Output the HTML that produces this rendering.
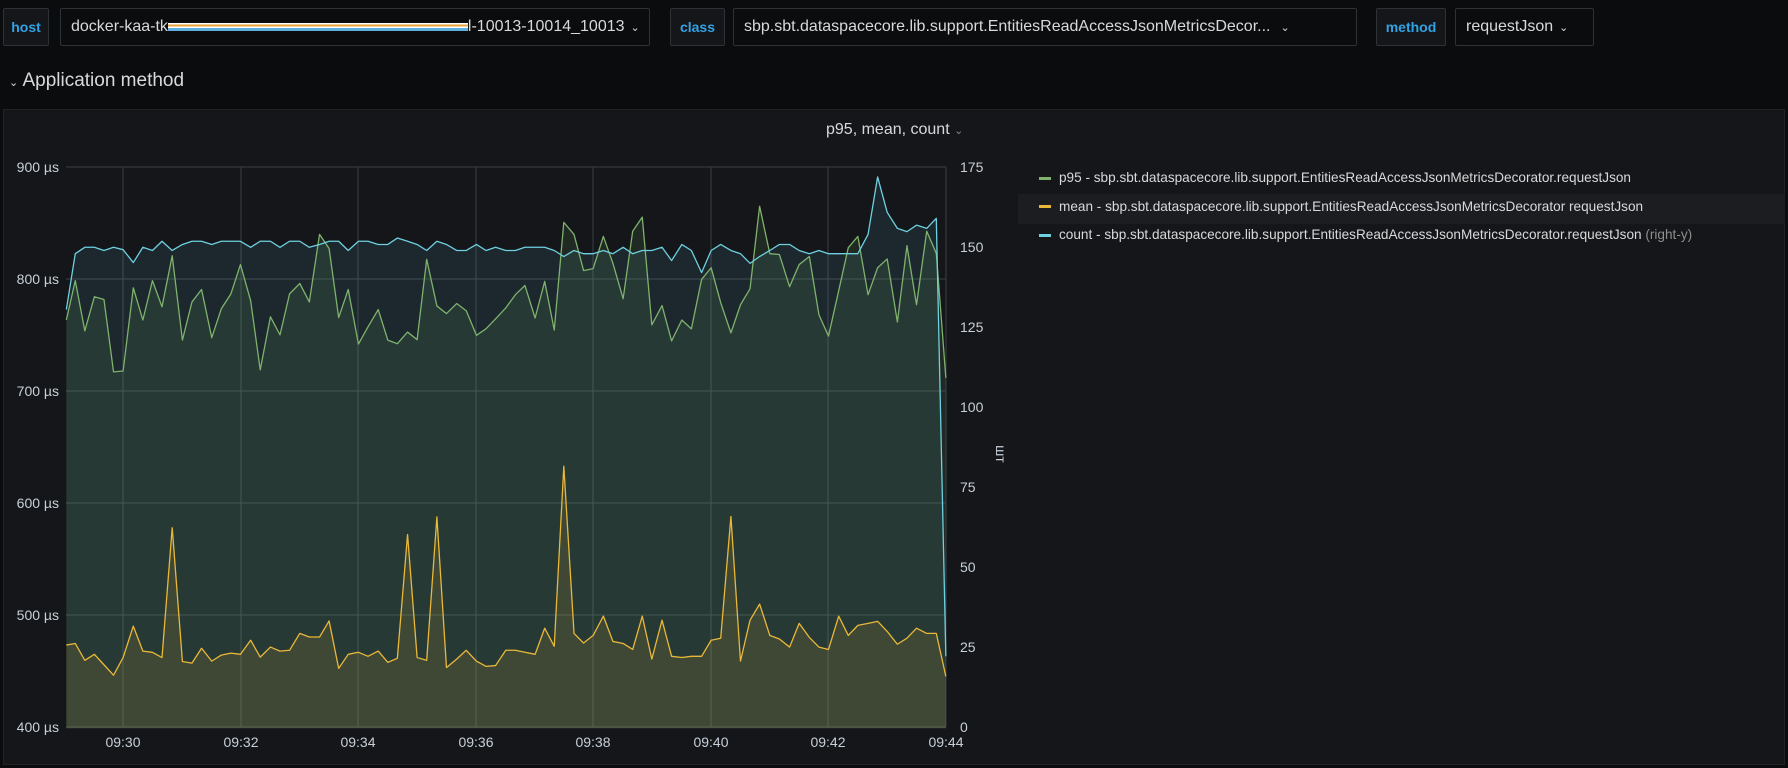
<!DOCTYPE html>
<html><head><meta charset="utf-8"><style>
body{margin:0;width:1788px;height:768px;background:#0b0c0e;font-family:"Liberation Sans",sans-serif;overflow:hidden;position:relative;color:#d8d9da}
.b{position:absolute;box-sizing:border-box;border:1px solid #2c3235;border-radius:2px;height:38px;top:8px;display:flex;align-items:center;font-size:16px}
.l{background:#141619;color:#33a2e5;justify-content:center;font-size:14px;font-weight:bold}
.i{background:#0b0c0e;padding-left:10px;color:#d8d9da}
</style></head><body>
<div class="b l" style="left:3px;width:46px">host</div>
<div class="b i" style="left:60px;width:590px">docker-kaa-tk<span style="display:inline-block;width:300px;height:8px;background:linear-gradient(#fff 0 20%,#e8a23a 20% 45%,#fff 45% 65%,#5fb0e0 65% 100%)"></span>l-10013-10014_10013 <span style="font-size:11px;margin-left:6px">⌄</span></div>
<div class="b l" style="left:670px;width:55px">class</div>
<div class="b i" style="left:733px;width:624px">sbp.sbt.dataspacecore.lib.support.EntitiesReadAccessJsonMetricsDecor... <span style="font-size:11px;margin-left:10px">⌄</span></div>
<div class="b l" style="left:1376px;width:70px">method</div>
<div class="b i" style="left:1455px;width:139px">requestJson <span style="font-size:11px;margin-left:6px">⌄</span></div>
<div style="position:absolute;left:9px;top:70px;font-size:19px;color:#d8d9da"><span style="font-size:11px">⌄</span> Application method</div>
<div style="position:absolute;left:3px;top:109px;width:1782px;height:656px;background:#141619;border:1px solid #202226;box-sizing:border-box"></div>
<div style="position:absolute;left:826px;top:121px;font-size:16px">p95, mean, count <span style="font-size:11px;color:#888">⌄</span></div>
<div style="position:absolute;left:1018px;top:194px;width:767px;height:30px;background:#1b1d21"></div>
<div style="position:absolute;left:1039px;top:164px;font-size:13.6px;line-height:28.5px">
<div><span style="display:inline-block;width:12px;height:3px;background:#7eb26d;vertical-align:middle;margin-right:8px"></span>p95 - sbp.sbt.dataspacecore.lib.support.EntitiesReadAccessJsonMetricsDecorator.requestJson</div>
<div><span style="display:inline-block;width:12px;height:3px;background:#eab839;vertical-align:middle;margin-right:8px"></span>mean - sbp.sbt.dataspacecore.lib.support.EntitiesReadAccessJsonMetricsDecorator requestJson</div>
<div><span style="display:inline-block;width:12px;height:3px;background:#6ed0e0;vertical-align:middle;margin-right:8px"></span>count - sbp.sbt.dataspacecore.lib.support.EntitiesReadAccessJsonMetricsDecorator.requestJson <span style="color:#8e8e8e">(right-y)</span></div>
</div>
<svg width="1788" height="768" style="position:absolute;left:0;top:0" font-family="Liberation Sans, sans-serif" font-size="14" fill="#c7d0d9">
<g stroke="#3a3d42" stroke-width="1">
<line x1="66" x2="946" y1="167" y2="167"/><line x1="66" x2="946" y1="279" y2="279"/><line x1="66" x2="946" y1="391" y2="391"/><line x1="66" x2="946" y1="503" y2="503"/><line x1="66" x2="946" y1="615" y2="615"/><line x1="66" x2="946" y1="727" y2="727"/>
<line x1="123" x2="123" y1="167" y2="727"/><line x1="241" x2="241" y1="167" y2="727"/><line x1="358" x2="358" y1="167" y2="727"/><line x1="476" x2="476" y1="167" y2="727"/><line x1="593" x2="593" y1="167" y2="727"/><line x1="711" x2="711" y1="167" y2="727"/><line x1="828" x2="828" y1="167" y2="727"/><line x1="946" x2="946" y1="167" y2="727"/>
</g>
<g transform="translate(0,140) scale(0.6378,0.4018)" stroke-linejoin="round">
<polygon fill="rgba(110,208,224,0.10)" points="104,1464 104,422 118,283 133,267 148,267 163,275 178,267 193,273 209,305 224,267 239,275 254,252 270,275 286,260 301,252 316,252 332,260 347,252 377,252 393,267 408,252 424,252 439,267 454,252 470,252 485,267 501,260 516,252 531,252 546,275 562,252 577,252 593,260 608,260 623,244 639,252 654,260 669,275 685,252 700,260 716,275 731,275 747,260 762,275 777,267 793,275 808,275 823,267 854,267 869,275 884,290 900,275 915,283 930,283 946,275 961,283 977,267 992,283 1007,275 1022,275 1038,267 1053,300 1069,260 1084,275 1100,330 1115,275 1130,260 1146,275 1161,283 1176,307 1191,290 1207,275 1222,260 1238,260 1253,275 1269,283 1284,275 1299,283 1345,283 1361,235 1376,92 1391,180 1407,220 1422,228 1437,212 1453,220 1468,195 1483,1285 1483,1464"/>
<polygon fill="rgba(126,178,109,0.12)" points="104,1464 104,448 118,350 133,475 148,390 163,397 178,577 193,575 209,368 224,448 239,350 254,415 270,288 286,498 301,403 316,372 332,492 347,420 362,383 377,310 393,400 408,572 424,440 439,485 454,383 470,357 485,403 501,235 516,270 531,442 546,372 562,508 577,465 593,422 608,498 623,507 639,478 654,497 669,297 685,413 700,432 716,407 731,425 747,486 762,470 777,445 793,418 808,385 823,362 839,443 854,352 869,473 884,205 900,235 915,325 930,320 946,240 961,307 977,395 992,227 1007,192 1022,460 1038,412 1053,500 1069,448 1084,470 1100,347 1115,318 1130,405 1146,480 1161,410 1176,370 1191,165 1207,283 1222,285 1238,365 1253,310 1269,290 1284,435 1299,488 1315,375 1330,268 1345,240 1361,385 1376,318 1391,296 1407,453 1422,263 1437,410 1453,227 1468,282 1483,592 1483,1464"/>
<polygon fill="rgba(234,184,57,0.12)" points="104,1464 104,1257 118,1253 133,1295 148,1280 163,1306 178,1332 193,1288 209,1210 224,1272 239,1275 254,1288 270,965 286,1298 301,1302 316,1265 332,1297 347,1282 362,1277 377,1280 393,1245 408,1287 424,1262 439,1272 454,1270 470,1228 485,1237 501,1237 516,1197 531,1315 546,1280 562,1275 577,1285 593,1272 608,1300 623,1290 639,982 654,1288 669,1295 685,938 700,1313 716,1292 731,1270 747,1297 762,1310 777,1308 793,1270 808,1270 823,1275 839,1280 854,1215 869,1260 884,812 900,1228 915,1252 930,1233 946,1185 961,1248 977,1253 992,1268 1007,1185 1022,1292 1038,1195 1053,1285 1069,1288 1084,1285 1100,1285 1115,1245 1130,1240 1146,937 1161,1297 1176,1195 1191,1155 1207,1233 1222,1242 1238,1262 1253,1203 1269,1238 1284,1262 1299,1268 1315,1185 1330,1233 1345,1208 1361,1203 1376,1198 1391,1223 1407,1255 1422,1240 1437,1215 1453,1228 1468,1228 1483,1335 1483,1464"/>
<polyline fill="none" stroke="#7eb26d" stroke-width="1.3" vector-effect="non-scaling-stroke" points="104,448 118,350 133,475 148,390 163,397 178,577 193,575 209,368 224,448 239,350 254,415 270,288 286,498 301,403 316,372 332,492 347,420 362,383 377,310 393,400 408,572 424,440 439,485 454,383 470,357 485,403 501,235 516,270 531,442 546,372 562,508 577,465 593,422 608,498 623,507 639,478 654,497 669,297 685,413 700,432 716,407 731,425 747,486 762,470 777,445 793,418 808,385 823,362 839,443 854,352 869,473 884,205 900,235 915,325 930,320 946,240 961,307 977,395 992,227 1007,192 1022,460 1038,412 1053,500 1069,448 1084,470 1100,347 1115,318 1130,405 1146,480 1161,410 1176,370 1191,165 1207,283 1222,285 1238,365 1253,310 1269,290 1284,435 1299,488 1315,375 1330,268 1345,240 1361,385 1376,318 1391,296 1407,453 1422,263 1437,410 1453,227 1468,282 1483,592"/>
<polyline fill="none" stroke="#eab839" stroke-width="1.3" vector-effect="non-scaling-stroke" points="104,1257 118,1253 133,1295 148,1280 163,1306 178,1332 193,1288 209,1210 224,1272 239,1275 254,1288 270,965 286,1298 301,1302 316,1265 332,1297 347,1282 362,1277 377,1280 393,1245 408,1287 424,1262 439,1272 454,1270 470,1228 485,1237 501,1237 516,1197 531,1315 546,1280 562,1275 577,1285 593,1272 608,1300 623,1290 639,982 654,1288 669,1295 685,938 700,1313 716,1292 731,1270 747,1297 762,1310 777,1308 793,1270 808,1270 823,1275 839,1280 854,1215 869,1260 884,812 900,1228 915,1252 930,1233 946,1185 961,1248 977,1253 992,1268 1007,1185 1022,1292 1038,1195 1053,1285 1069,1288 1084,1285 1100,1285 1115,1245 1130,1240 1146,937 1161,1297 1176,1195 1191,1155 1207,1233 1222,1242 1238,1262 1253,1203 1269,1238 1284,1262 1299,1268 1315,1185 1330,1233 1345,1208 1361,1203 1376,1198 1391,1223 1407,1255 1422,1240 1437,1215 1453,1228 1468,1228 1483,1335"/>
<polyline fill="none" stroke="#6ed0e0" stroke-width="1.3" vector-effect="non-scaling-stroke" points="104,422 118,283 133,267 148,267 163,275 178,267 193,273 209,305 224,267 239,275 254,252 270,275 286,260 301,252 316,252 332,260 347,252 377,252 393,267 408,252 424,252 439,267 454,252 470,252 485,267 501,260 516,252 531,252 546,275 562,252 577,252 593,260 608,260 623,244 639,252 654,260 669,275 685,252 700,260 716,275 731,275 747,260 762,275 777,267 793,275 808,275 823,267 854,267 869,275 884,290 900,275 915,283 930,283 946,275 961,283 977,267 992,283 1007,275 1022,275 1038,267 1053,300 1069,260 1084,275 1100,330 1115,275 1130,260 1146,275 1161,283 1176,307 1191,290 1207,275 1222,260 1238,260 1253,275 1269,283 1284,275 1299,283 1345,283 1361,235 1376,92 1391,180 1407,220 1422,228 1437,212 1453,220 1468,195 1483,1285"/>
</g>
<g text-anchor="end"><text x="59" y="172">900 µs</text><text x="59" y="284">800 µs</text><text x="59" y="396">700 µs</text><text x="59" y="508">600 µs</text><text x="59" y="620">500 µs</text><text x="59" y="732">400 µs</text></g>
<g><text x="960" y="172">175</text><text x="960" y="252">150</text><text x="960" y="332">125</text><text x="960" y="412">100</text><text x="960" y="492">75</text><text x="960" y="572">50</text><text x="960" y="652">25</text><text x="960" y="732">0</text></g>
<text transform="translate(996,454) rotate(90)" text-anchor="middle">шт</text>
<g text-anchor="middle"><text x="123" y="747">09:30</text><text x="241" y="747">09:32</text><text x="358" y="747">09:34</text><text x="476" y="747">09:36</text><text x="593" y="747">09:38</text><text x="711" y="747">09:40</text><text x="828" y="747">09:42</text><text x="946" y="747">09:44</text></g>
</svg>
</body></html>
